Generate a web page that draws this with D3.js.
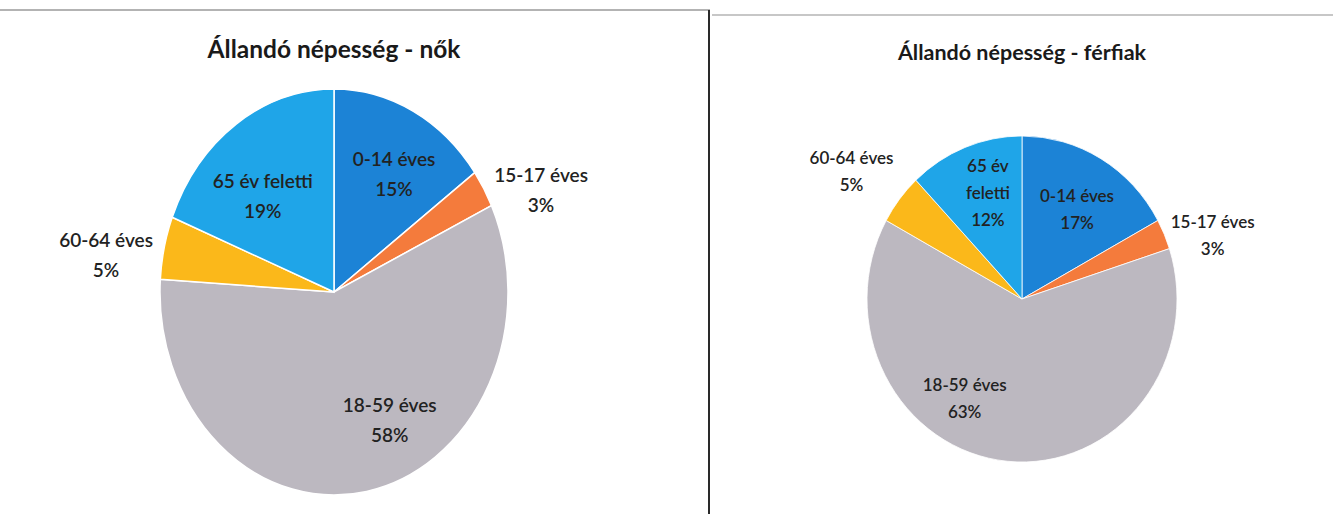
<!DOCTYPE html>
<html>
<head>
<meta charset="utf-8">
<script src="https://cdn.jsdelivr.net/npm/d3@7"></script>
<style>
  body { margin: 0; background: #fff; }
  svg { display: block; font-family: Lato, "Open Sans", sans-serif; }
</style>
</head>
<body>
<script>
// age groups, in the order the slices are drawn (clockwise from 12 o'clock)
var categories = ["0-14 éves", "15-17 éves", "18-59 éves", "60-64 éves", "65 év feletti"];
var noValues = [15, 3, 58, 5, 19];
var ferfiValues = [17, 3, 63, 5, 12];
var noLabels = [["0-14 éves"], ["15-17 éves"], ["18-59 éves"], ["60-64 éves"], ["65 év feletti"]];
var ferfiLabels = [["0-14 éves"], ["15-17 éves"], ["18-59 éves"], ["60-64 éves"], ["65 év", "feletti"]];

var w = 1333;
var h = 514;

var color = d3.scaleOrdinal()
    .domain(categories)
    .range(["#1c83d6", "#f47b3c", "#bcb8c0", "#fbb81a", "#1fa5e8"]);

var svg = d3.select("body")
            .append("svg")
            .attr("width", w)
            .attr("height", h);

// scanned page frame lines
svg.append("line")
   .attr("x1", 0).attr("x2", 710).attr("y1", 10).attr("y2", 10)
   .attr("stroke", "#9a9a9a").attr("stroke-width", 1.5);
svg.append("line")
   .attr("x1", 712).attr("x2", w).attr("y1", 15).attr("y2", 15)
   .attr("stroke", "#b5b5b5").attr("stroke-width", 1.5);
svg.append("line")
   .attr("x1", 709).attr("x2", 709).attr("y1", 10).attr("y2", h)
   .attr("stroke", "#2a2a2a").attr("stroke-width", 2);

// label spots as fractions of the pie radii (x, y from centre)
var noSpots = [[0.345, -0.58], [1.19, -0.5], [0.32, 0.63], [-1.31, -0.18], [-0.41, -0.47]];
var ferfiSpots = [[0.355, -0.55], [1.23, -0.39], [-0.37, 0.61], [-1.1, -0.78], [-0.22, -0.65]];

function pieChart(cfg) {
    var g = svg.append("g");

    g.append("text")
     .attr("x", cfg.cx)
     .attr("y", cfg.titleY)
     .attr("text-anchor", "middle")
     .attr("font-weight", "bold")
     .attr("font-size", cfg.titleSize)
     .attr("fill", "#1a1a1a")
     .text(cfg.title);

    var pie = d3.pie().sort(null).value(function(d) { return d.value; });
    var data = categories.map(function(c, i) {
        return { cat: c, value: cfg.values[i], lines: cfg.labels[i], spot: cfg.spots[i] };
    });
    var arcs = pie(data);

    var arc = d3.arc().innerRadius(0).outerRadius(cfg.rx);

    // scanned pies are squashed into ellipses
    var pg = g.append("g")
              .attr("transform", "translate(" + cfg.cx + "," + cfg.cy + ") scale(1," + (cfg.ry / cfg.rx) + ")");

    pg.selectAll("path")
      .data(arcs)
      .enter()
      .append("path")
      .attr("d", arc)
      .attr("fill", function(d) { return color(d.data.cat); })
      .attr("stroke", "#fff")
      .attr("stroke-width", cfg.stroke)
      .attr("vector-effect", "non-scaling-stroke");

    var lab = g.selectAll("text.lab")
       .data(arcs)
       .enter()
       .append("text")
       .attr("class", "lab")
       .attr("text-anchor", "middle")
       .attr("font-size", cfg.labelSize)
       .attr("font-weight", 600)
       .attr("fill", "#222");

    lab.each(function(d) {
        var lines = d.data.lines.concat([d3.format(".0%")(d.data.value / 100)]);
        var x = cfg.cx + d.data.spot[0] * cfg.rx;
        var y0 = cfg.cy + d.data.spot[1] * cfg.ry - (lines.length - 1) * cfg.lh / 2 + cfg.labelSize * 0.35;
        d3.select(this).selectAll("tspan")
          .data(lines)
          .enter()
          .append("tspan")
          .attr("x", x)
          .attr("y", function(t, i) { return y0 + i * cfg.lh; })
          .text(function(t) { return t; });
    });
}

pieChart({
    title: "Állandó népesség - nők", values: noValues, labels: noLabels, spots: noSpots,
    cx: 334, cy: 292, rx: 174, ry: 203, titleY: 58, titleSize: 24.5,
    labelSize: 19, lh: 30, stroke: 1.5
});

pieChart({
    title: "Állandó népesség - férfiak", values: ferfiValues, labels: ferfiLabels, spots: ferfiSpots,
    cx: 1022, cy: 299, rx: 155, ry: 163, titleY: 60, titleSize: 21.5,
    labelSize: 17, lh: 27, stroke: 0.8
});
</script>
</body>
</html>
